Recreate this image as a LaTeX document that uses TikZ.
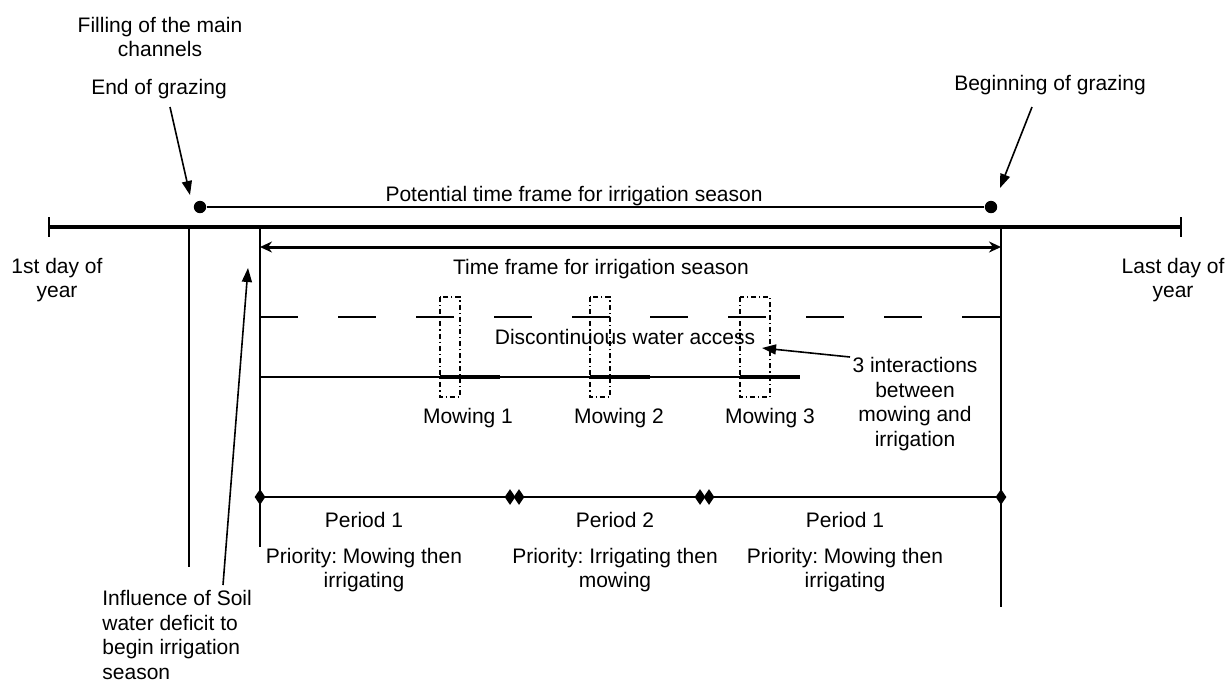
\documentclass[tikz,border=0pt]{standalone}
\usepackage{fontspec}
\setmainfont{Liberation Sans}
\usetikzlibrary{arrows.meta,shapes.geometric}
\tikzset{
  yearline/.style={line width=2.2pt},
  potline/.style={line width=1.4pt},
  thinline/.style={line width=0.75pt},
  framearrow/.style={{Stealth[length=6pt,width=5.5pt]}-{Stealth[length=6pt,width=5.5pt]}, line width=1.5pt},
  annot/.style={-{Triangle[length=7pt,width=5pt]}, line width=0.8pt},
  accessdash/.style={line width=0.75pt, dash pattern=on 19pt off 20pt},
  mowframe/.style={line width=0.65pt, dash pattern=on 2.5pt off 1.5pt on 0.6pt off 1.5pt},
  mowbar/.style={line width=2.4pt},
  periodline/.style={line width=1.4pt},
  enddot/.style={circle, fill, draw=none, inner sep=0pt, minimum size=6.2pt},
  periodmark/.style={diamond, fill, draw=none, inner sep=0pt, minimum width=5.5pt, minimum height=8pt}
}

\begin{document}
\frenchspacing
\begin{tikzpicture}[x=0.5pt, y=-0.5pt,
  font=\fontsize{10.5}{12.4}\selectfont,
  lbl/.style={inner sep=0pt, align=center}
]
\useasboundingbox (0,0) rectangle (1229,682);

% calendar year
\coordinate (yearA) at (49,227);
\coordinate (yearB) at (1181,227);
\draw[yearline] (yearA) -- (yearB);
\draw[thinline] ([yshift=5pt]yearA) -- ([yshift=-5pt]yearA);
\draw[thinline] ([yshift=5pt]yearB) -- ([yshift=-5pt]yearB);
\node[lbl] (firstday) at (57,280) {1st day of\\year};
\node[lbl] (lastday) at (1173,280) {Last day of\\year};

% potential window
\node[lbl] (filling) at (160,37) {Filling of the main\\channels};
\node[lbl] (endgraz) at (159,89) {End of grazing};
\node[lbl] (beggraz) at (1050,85) {Beginning of grazing};
\node[enddot] (potA) at (200,207) {};
\node[enddot] (potB) at (991,207) {};
\draw[potline] (potA) -- (potB);
\node[lbl] (potlbl) at (574,196) {Potential time frame for irrigation season};
\coordinate (endfrom) at (170,107);
\coordinate (endto) at (190,195);
\coordinate (begfrom) at (1032,107);
\coordinate (begto) at (1000,188);
\draw[annot] (endfrom) -- (endto);
\draw[annot] (begfrom) -- (begto);

% season limits
\coordinate (soilTop) at (189,227);
\coordinate (soilBot) at (189,567);
\coordinate (openTop) at (260,227);
\coordinate (openBot) at (260,547);
\coordinate (closeTop) at (1001,227);
\coordinate (closeBot) at (1001,607);
\draw[thinline] (soilTop) -- (soilBot);
\draw[thinline] (openTop) -- (openBot);
\draw[thinline] (closeTop) -- (closeBot);

\coordinate (frameA) at (260,247);
\coordinate (frameB) at (1001,247);
\draw[framearrow] (frameA) -- (frameB);
\node[lbl] (framelbl) at (601,269) {Time frame for irrigation season};

% water access and mowing
\coordinate (accA) at (260,317);
\coordinate (accB) at (1001,317);
\draw[accessdash] (accA) -- (accB);
\coordinate (irrA) at (260,377);
\coordinate (irrB) at (800,377);
\draw[thinline] (irrA) -- (irrB);
\node[lbl] (access) at (625,337) {Discontinuous water access};

\foreach \n/\x/\w/\lx in {1/440/20/468, 2/590/20/619, 3/740/30/770} {
  \draw[mowframe] (\x,297) rectangle ++(\w,100);
  \draw[mowbar] (\x,377) -- ++(60,0);
  \node[lbl] (mow\n) at (\lx,418) {Mowing \n};
}

\node[lbl] (interact) at (915,404) {3 interactions\\between\\mowing and\\irrigation};
\coordinate (intfrom) at (850,357);
\coordinate (intto) at (762,348);
\draw[annot] (intfrom) -- (intto);

% periods
\coordinate (perA) at (260,497);
\coordinate (perB) at (1001,497);
\draw[periodline] (perA) -- (perB);
\foreach \x in {260,510,519,700,709,1001}
  \node[periodmark] (pm\x) at (\x,497) {};

\node[lbl] (per1) at (364,520) {Period 1};
\node[lbl] (per2) at (615,520) {Period 2};
\node[lbl] (per3) at (845,520) {Period 1};
\node[lbl] (prio1) at (364,570) {Priority: Mowing then\\irrigating};
\node[lbl] (prio2) at (615,570) {Priority: Irrigating then\\mowing};
\node[lbl] (prio3) at (845,570) {Priority: Mowing then\\irrigating};

% soil water deficit
\node[lbl, align=left, anchor=west] (soil) at (102,635) {Influence of Soil\\water deficit to\\begin irrigation\\season};
\coordinate (soilfrom) at (223,585);
\coordinate (soilto) at (248,268);
\draw[annot] (soilfrom) -- (soilto);
\end{tikzpicture}
\end{document}
